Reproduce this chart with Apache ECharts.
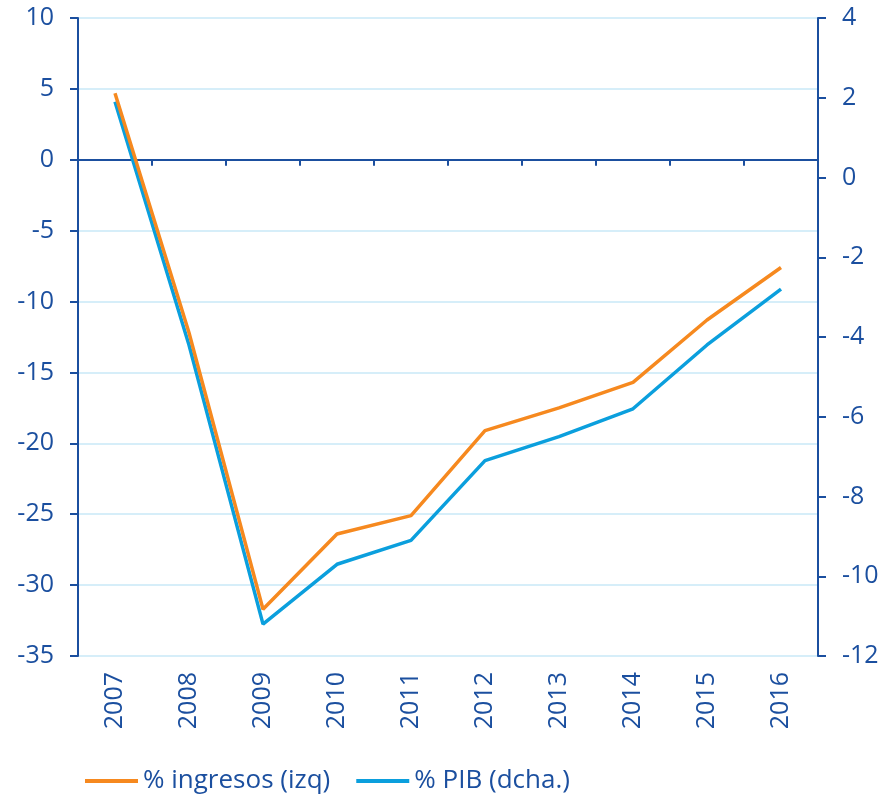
<!DOCTYPE html>
<html>
<head>
<meta charset="utf-8">
<script src="https://cdn.jsdelivr.net/npm/echarts@6/dist/echarts.min.js"></script>
<style>
  html, body { margin: 0; padding: 0; background: #fff; }
  #main { width: 882px; height: 795px; }
</style>
</head>
<body>
<div id="main"></div>
<script>
// datos
const years = ['2007', '2008', '2009', '2010', '2011', '2012', '2013', '2014', '2015', '2016'];
const ingresos = [4.7, -12.2, -31.7, -26.4, -25.1, -19.1, -17.5, -15.7, -11.3, -7.6]; // izq
const pib = [1.9, -4.2, -11.2, -9.7, -9.1, -7.1, -6.5, -5.8, -4.2, -2.8];              // dcha.

const azul = '#1B4F9F';
const fuente = 'Open Sans';

const myChart = echarts.init(document.getElementById('main'));

const option = {
  backgroundColor: '#fff',
  textStyle: { fontFamily: fuente, color: azul },
  legend: {
    left: 80,
    top: 763,
    icon: 'rect',
    itemWidth: 53,
    itemHeight: 4,
    itemGap: 26,
    textStyle: { fontFamily: fuente, fontSize: 26, color: azul },
    data: ['% ingresos (izq)', '% PIB (dcha.)']
  },
  grid: {
    left: 78,
    right: 64,
    top: 18,
    bottom: 139,
    containLabel: false
  },
  xAxis: [
    {
      // eje en el cero, solo línea y marcas
      type: 'category',
      data: years,
      boundaryGap: true,
      axisLine: { onZero: true, onZeroAxisIndex: 0, lineStyle: { color: azul, width: 2 } },
      axisTick: { show: true, inside: false, length: 6, lineStyle: { color: azul, width: 2 } },
      axisLabel: { show: false },
      splitLine: { show: false }
    },
    {
      // etiquetas abajo
      type: 'category',
      data: years,
      position: 'bottom',
      boundaryGap: true,
      axisLine: { show: false },
      axisTick: { show: false },
      axisLabel: {
        rotate: 90,
        margin: 16,
        fontFamily: fuente,
        fontSize: 25,
        color: azul
      },
      splitLine: { show: false }
    }
  ],
  yAxis: [
    {
      type: 'value',
      min: -35,
      max: 10,
      interval: 5,
      position: 'left',
      axisLine: { show: true, lineStyle: { color: azul, width: 2 } },
      axisTick: { show: true, length: 8, lineStyle: { color: azul, width: 2 } },
      axisLabel: { margin: 24, fontFamily: fuente, fontSize: 25, color: azul },
      splitLine: { show: true, lineStyle: { color: '#C9E8F7', width: 1.5 } }
    },
    {
      type: 'value',
      min: -12,
      max: 4,
      interval: 2,
      position: 'right',
      axisLine: { show: true, lineStyle: { color: azul, width: 2 } },
      axisTick: { show: true, length: 8, lineStyle: { color: azul, width: 2 } },
      axisLabel: { margin: 24, fontFamily: fuente, fontSize: 25, color: azul },
      splitLine: { show: false }
    }
  ],
  series: [
    {
      name: '% ingresos (izq)',
      type: 'line',
      xAxisIndex: 0,
      yAxisIndex: 0,
      data: ingresos,
      showSymbol: false,
      symbol: 'none',
      itemStyle: { color: '#F6891F' },
      lineStyle: { color: '#F6891F', width: 3.5 },
      z: 3
    },
    {
      name: '% PIB (dcha.)',
      type: 'line',
      xAxisIndex: 0,
      yAxisIndex: 1,
      data: pib,
      showSymbol: false,
      symbol: 'none',
      itemStyle: { color: '#0B9FDD' },
      lineStyle: { color: '#0B9FDD', width: 3.5 },
      z: 2
    }
  ]
};

option && myChart.setOption(option);
</script>
</body>
</html>
